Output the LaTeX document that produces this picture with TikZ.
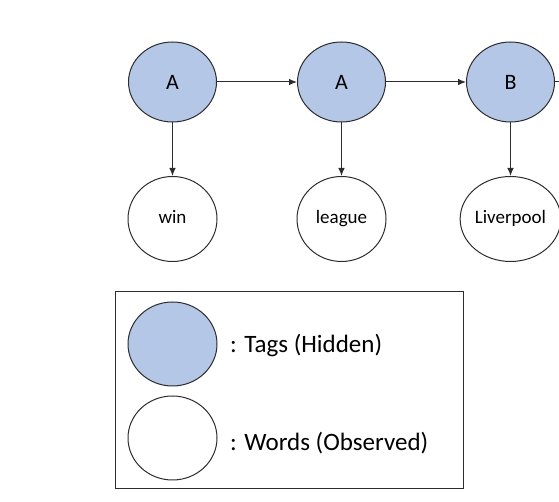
\documentclass[tikz,border=0pt]{standalone}
\usepackage{fontspec}
\setmainfont{Carlito}
\usepackage{tikz}
\usetikzlibrary{shapes.geometric,arrows.meta}
\tikzset{>={Latex[length=8pt,width=6.5pt]}}
\definecolor{tagblue}{RGB}{180,199,231}
\definecolor{edgegray}{RGB}{45,45,45}
\tikzset{
  tag/.style={ellipse, draw=edgegray, line width=1pt, fill=tagblue, inner sep=0pt,
    minimum width=88pt, minimum height=80pt, font=\fontsize{22}{24}\selectfont},
  word/.style={ellipse, draw=edgegray, line width=1pt, fill=white, inner sep=0pt,
    minimum width=89pt, minimum height=85pt, text height=13pt, text depth=4pt,
    font=\fontsize{19}{21}\selectfont},
  link/.style={->, line width=1pt, draw=edgegray}
}

\begin{document}
\begin{tikzpicture}[x=1pt, y=1pt]
      \useasboundingbox (0,0) rectangle (559,502);
      % tags (hidden)
      \node[tag] (t1) at (172.5,420) {A};
      \node[tag] (t2) at (341.5,420) {A};
      \node[tag] (t3) at (510.5,420) {B};
      % words (observed)
      \node[word] (w1) at (172.5,283) {win};
      \node[word] (w2) at (341.5,283) {league};
      \node[word] (w3) at (510.5,283) {Liverpool};
      \coordinate (next) at (575,420);
      \draw[link] (t1) -- (t2);
      \draw[link] (t2) -- (t3);
      \draw[link] (t3) -- (next);
      \draw[link] (t1) -- (w1);
      \draw[link] (t2) -- (w2);
      \draw[link] (t3) -- (w3);
      % legend
      \draw[edgegray, line width=1pt] (115,210) rectangle (463,13);
      \node[tag, minimum height=84pt, minimum width=89pt] (lt) at (172.5,158) {};
      \node[word, minimum height=84pt] (lw) at (172.5,64) {};
      \node[anchor=west, font=\fontsize{25}{28}\selectfont, inner sep=0pt] at (230,156) {: Tags (Hidden)};
      \node[anchor=west, font=\fontsize{25}{28}\selectfont, inner sep=0pt] at (230,59) {: Words (Observed)};
    \end{tikzpicture}
\end{document}
